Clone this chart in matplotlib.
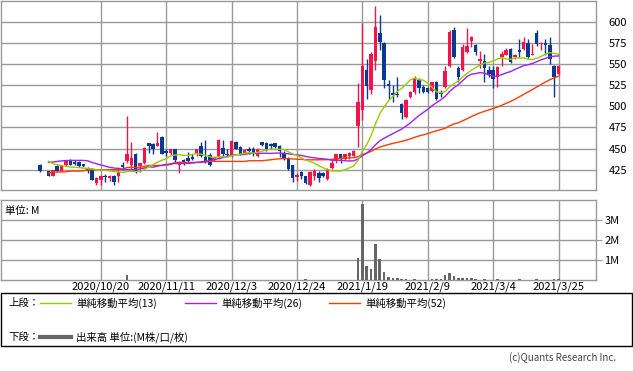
import numpy as np
import pandas as pd
import matplotlib.pyplot as plt
from matplotlib.patches import Rectangle
from matplotlib.lines import Line2D

plt.rcParams['font.family'] = ['Noto Sans CJK JP', 'DejaVu Sans']

# daily OHLC (index 1 = 2020/10/1, no trading)
opens = [431, np.nan, 423, 418, 429, 424, 430, 437, 434, 434, 432, 427, 425, 409, 413, 418, 415, 418, 418, 431,
         435, 430, 444, 429, 433, 457, 455, 453, 464, 447, 445, 449, 431, 437, 439, 440, 443, 453, 440, 442,
         437, 440, 451, 444, 441, 458, 452, 445, 449, 450, 441, 458, 456, 455, 456, 453, 445, 439, 430, 416,
         422, 417, 407, 417, 421, 421, 414, 427, 435, 443, 438, 441, 441, 477, 496, 543, 519, 554, 586, 575,
         526, 516, 515, 503, 487, 511, 517, 531, 523, 522, 518, 529, 517, 523, 547, 590, 545, 543, 564, 577,
         572, 554, 554, 543, 543, 535, 558, 561, 568, 558, 566, 568, 575, 561, 586, 573, 575, 572, 548, 538]
highs = [432, np.nan, 424, 425, 430, 430, 436, 438, 437, 435, 432, 428, 426, 416, 419, 420, 419, 419, 428, 434,
         488, 458, 445, 433, 452, 457, 456, 469, 465, 449, 450, 450, 435, 438, 446, 444, 450, 458, 460, 445,
         441, 461, 460, 449, 460, 459, 453, 449, 452, 452, 451, 458, 458, 456, 457, 454, 447, 440, 431, 421,
         423, 418, 423, 426, 423, 422, 427, 436, 443, 443, 444, 446, 448, 527, 598, 556, 564, 618, 608, 576,
         531, 525, 534, 504, 508, 518, 536, 533, 525, 523, 529, 530, 519, 548, 590, 594, 548, 574, 593, 583,
         573, 565, 562, 548, 548, 547, 565, 569, 569, 562, 579, 582, 580, 574, 590, 576, 580, 582, 549, 549]
lows = [422, np.nan, 417, 417, 422, 423, 429, 430, 431, 428, 428, 421, 413, 407, 407, 410, 412, 407, 411, 425,
        433, 423, 421, 422, 432, 445, 444, 453, 443, 441, 442, 433, 421, 431, 433, 436, 441, 440, 433, 429,
        435, 438, 441, 441, 440, 449, 442, 443, 444, 441, 440, 453, 447, 450, 451, 440, 437, 425, 410, 412,
        414, 408, 406, 413, 410, 416, 413, 426, 433, 433, 436, 438, 440, 452, 484, 508, 515, 543, 566, 521,
        509, 505, 511, 485, 486, 510, 515, 516, 516, 516, 517, 507, 511, 522, 546, 557, 529, 542, 563, 570,
        560, 545, 529, 535, 522, 523, 548, 560, 551, 556, 558, 566, 557, 560, 571, 567, 560, 550, 511, 537]
closes = [423, np.nan, 418, 425, 423, 429, 435, 430, 432, 429, 429, 423, 413, 415, 418, 416, 418, 410, 422, 428,
          443, 439, 422, 433, 451, 453, 450, 456, 444, 445, 449, 437, 434, 433, 435, 438, 449, 441, 434, 430,
          440, 460, 443, 442, 459, 450, 444, 448, 447, 443, 450, 454, 449, 453, 452, 447, 438, 426, 415, 419,
          417, 409, 422, 424, 415, 417, 426, 433, 443, 439, 444, 445, 447, 505, 548, 524, 562, 594, 576, 531,
          524, 513, 513, 492, 507, 517, 533, 522, 517, 517, 529, 508, 514, 542, 588, 558, 535, 570, 571, 582,
          564, 556, 545, 538, 532, 546, 562, 567, 552, 560, 564, 576, 558, 562, 574, 575, 572, 556, 534, 548]

# volume, millions
volume = [0.02, 0, 0.02, 0.02, 0.02, 0.02, 0.02, 0.02, 0.02, 0.02, 0.02, 0.02, 0.02, 0.02, 0.02, 0.005, 0.005, 0.005, 0.005, 0.005,
          0.26, 0.005, 0.005, 0.005, 0.005, 0.005, 0.005, 0.005, 0.005, 0.005, 0.005, 0.005, 0.005, 0.005, 0.005, 0.005, 0.005, 0.005, 0.005, 0.005,
          0.005, 0.005, 0.005, 0.005, 0.005, 0.005, 0.005, 0.005, 0.005, 0.005, 0.005, 0.005, 0.005, 0.005, 0.005, 0.005, 0.005, 0.005, 0.005, 0.005,
          0.005, 0.05, 0.005, 0.005, 0.005, 0.005, 0.005, 0.005, 0.005, 0.005, 0.005, 0.005, 0.005, 1.09, 3.79, 0.69, 0.57, 1.78, 1.07, 0.38,
          0.17, 0.09, 0.09, 0.03, 0.03, 0.02, 0.05, 0.02, 0.02, 0.02, 0.05, 0.05, 0.03, 0.26, 0.34, 0.22, 0.09, 0.09, 0.12, 0.09,
          0.03, 0.02, 0.05, 0.02, 0.02, 0.05, 0.02, 0.02, 0.02, 0.02, 0.04, 0.02, 0.02, 0.02, 0.05, 0.02, 0.02, 0.02, 0.06, 0.03]

# moving averages before enough closes are in view
ma13_head = [441.5, np.nan, 435, 432, 431, 429.8, 429, 428.2, 427.8, 427.5, 426.8, 426.5, 426.2]
ma26_head = [433.6, np.nan, 433.6, 434, 434.8, 435.4, 435.8, 436, 436, 436, 436, 435.5, 433.5, 432, 430.6, 429.2,
             427.8, 427, 426.4, 425.6, 425.3, 425, 425, 426, 427, 428.5]
ma52_head = [420.3, np.nan, 421, 422.3, 422.3, 422.3, 422.5, 423.4, 423.4, 423.4, 423.6, 425, 425, 425, 425, 425,
             425, 425, 425, 425.5, 427.7, 427.7, 427.7, 427.7, 429, 430, 430, 430, 430, 430.5, 431, 433.6,
             433.6, 433.6, 433.6, 433.6, 433.6, 433.6, 434, 434.8, 434.8, 434.8, 434.8, 434.8, 434.8, 434.8, 434.8,
             434.8, 435.6, 435.6, 435.6, 435.6]

tick_idx = [14, 29, 44, 59, 74, 89, 104, 119]
tick_labels = ['2020/10/20', '2020/11/11', '2020/12/3', '2020/12/24', '2021/1/19', '2021/2/9', '2021/3/4', '2021/3/25']

UP = '#f5144a'
DOWN = '#0b3890'
GRID = '#999999'


def moving_average(n, head):
    s = pd.Series(closes, dtype=float)
    valid = s.dropna()
    ma = valid.rolling(n).mean().reindex(s.index)
    for i, v in enumerate(head):
        if np.isnan(ma[i]):
            ma[i] = v
    return ma


df = pd.DataFrame({'open': opens, 'high': highs, 'low': lows, 'close': closes, 'volume': volume})
x = np.arange(len(df))
df['ma13'] = moving_average(13, ma13_head)
df['ma26'] = moving_average(26, ma26_head)
df['ma52'] = moving_average(52, ma52_head)

fig = plt.figure(figsize=(6.33, 3.71), dpi=100)
W, H = 633, 371
ax = fig.add_axes([1 / W, 1 - 190 / H, 595 / W, 189.5 / H])
vax = fig.add_axes([1 / W, 1 - 280 / H, 595 / W, 80 / H])

for a in (ax, vax):
    a.set_xlim(-8.9, 127.6)
    a.set_xticks(tick_idx)
    a.grid(True, color=GRID, linewidth=1)
    a.set_axisbelow(True)
    for sp in a.spines.values():
        sp.set_color(GRID)
        sp.set_linewidth(1)
    a.yaxis.tick_right()

# candles
up = df['close'] >= df['open']
col = np.where(up, UP, DOWN)
ax.vlines(x, df['low'], df['high'], colors=col, linewidth=1, zorder=2)
body_lo = np.minimum(df['open'], df['close'])
body_h = np.maximum((df['close'] - df['open']).abs(), 0.8)
ax.bar(x, body_h, bottom=body_lo, width=0.8, color=col, linewidth=0, zorder=3)

ax.plot(x, df['ma52'], color='#ff3c00', linewidth=1, zorder=4)
ax.plot(x, df['ma26'], color='#a020f0', linewidth=1, zorder=4)
ax.plot(x, df['ma13'], color='#99cc00', linewidth=1, zorder=4)

ax.set_ylim(401, 625)
ax.set_yticks([425, 450, 475, 500, 525, 550, 575, 600])
ax.tick_params(axis='y', length=0, pad=9, labelsize=8)
ax.tick_params(axis='x', length=0, labelbottom=False)

vax.bar(x, df['volume'], width=0.6, color='#666666', zorder=3)
vax.set_ylim(0, 4)
vax.set_yticks([1, 2, 3])
vax.set_yticklabels(['1M', '2M', '3M'])
vax.tick_params(axis='y', length=4, color=GRID, pad=2, labelsize=8)
vax.set_xticklabels(tick_labels)
vax.tick_params(axis='x', length=0, pad=1, labelsize=8)
vax.text(0.007, 0.86, '単位: M', transform=vax.transAxes, fontsize=7.5, va='center')

# legend box
fig.patches.append(Rectangle((1 / W, 1 - 346 / H), 631 / W, 53 / H, transform=fig.transFigure,
                             fill=False, edgecolor='black', linewidth=1))


def fx(px):
    return px / W


def fy(py):
    return 1 - py / H


fig.text(fx(8), fy(303), '上段：', fontsize=7.5, va='center')
fig.text(fx(8), fy(337), '下段：', fontsize=7.5, va='center')
for x0, c, lab in [(40, '#99cc00', '単純移動平均(13)'), (185, '#a020f0', '単純移動平均(26)'),
                   (329, '#ff3c00', '単純移動平均(52)')]:
    fig.lines.append(Line2D([fx(x0), fx(x0 + 31)], [fy(303), fy(303)], transform=fig.transFigure,
                            color=c, linewidth=1))
    fig.text(fx(x0 + 36), fy(303), lab, fontsize=7.5, va='center')
fig.lines.append(Line2D([fx(40), fx(71)], [fy(337), fy(337)], transform=fig.transFigure,
                        color='#666666', linewidth=3))
fig.text(fx(76), fy(337), '出来高 単位:(M株/口/枚)', fontsize=7.5, va='center')
fig.text(fx(616), fy(358), '(c)Quants Research Inc.', fontsize=7, va='center', ha='right', color='#444444')

fig.savefig('out.png', dpi=100)
